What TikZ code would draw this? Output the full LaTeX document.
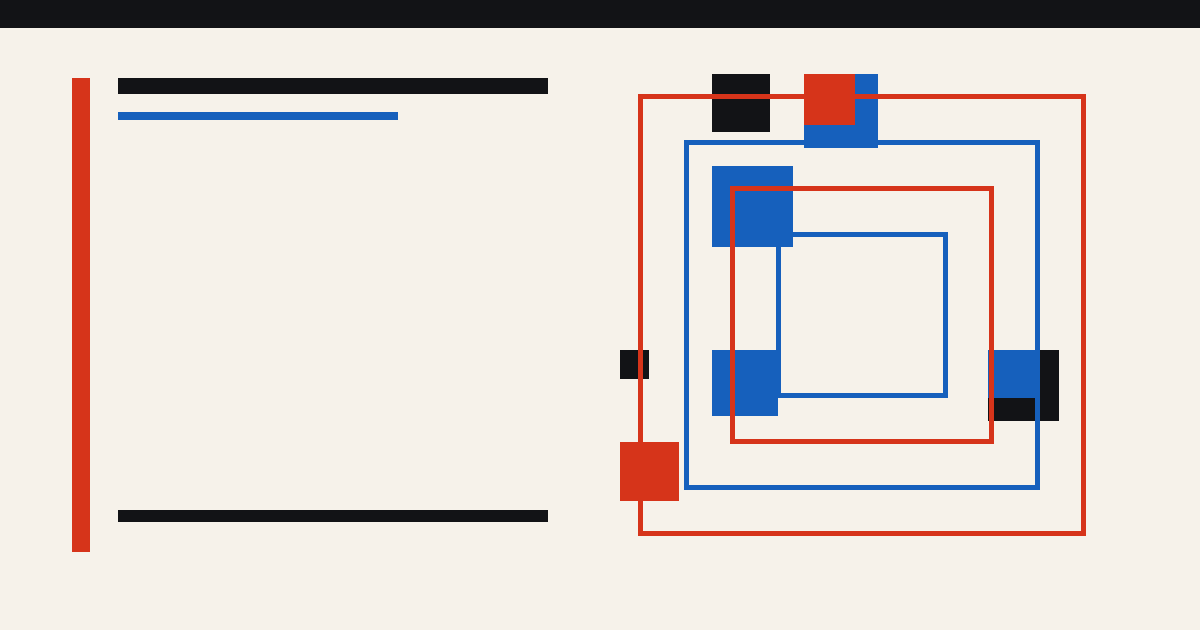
\documentclass[tikz,border=0pt]{standalone}
\usepackage {tikz}
\usetikzlibrary{calc}
\definecolor{paper}{HTML}{F6F2EA}
\definecolor{ink}{HTML}{121316}
\definecolor{vermil}{HTML}{D6341A}
\definecolor{cobalt}{HTML}{1660BC}
\tikzset{
    slab/.style = {fill=#1, draw=none},
    frame/.style = {draw=#1, line width=0.1cm, fill=none}}
\begin{document}
\begin{tikzpicture}[x=0.02cm, y=-0.02cm]
    \fill[paper] (0,0) rectangle (1200,630);
    \useasboundingbox (0,0) rectangle (1200,630);
    \fill[ink] (0,0) rectangle (1200,28);
    % left column
    \fill[slab=vermil] (72,78) rectangle (90,552);
    \fill[slab=ink] (118,78) rectangle (548,94);
    \fill[slab=cobalt] (118,112) rectangle (398,120);
    \fill[slab=ink] (118,510) rectangle (548,522);
    % squares
    \fill[slab=ink] (712,74) rectangle (770,132);
    \fill[slab=cobalt] (804,74) rectangle (878,148);
    \fill[slab=vermil] (804,74) rectangle (855,125);
    \fill[slab=cobalt] (712,166) rectangle (793,247);
    \fill[slab=ink] (620,350) rectangle (649,379);
    \fill[slab=cobalt] (712,350) rectangle (778,416);
    \fill[slab=ink] (988,350) rectangle (1059,421);
    \fill[slab=cobalt] (988,350) rectangle (1036,398);
    \fill[slab=vermil] (620,442) rectangle (679,501);
    % frames
    \draw[frame=vermil] (640.5,96.5) rectangle (1083.5,533.5);
    \draw[frame=cobalt] (686.5,142.5) rectangle (1037.5,487.5);
    \draw[frame=vermil] (732.5,188.5) rectangle (991.5,441.5);
    \draw[frame=cobalt] (778.5,234.5) rectangle (945.5,395.5);
\end{tikzpicture}
\end{document}
